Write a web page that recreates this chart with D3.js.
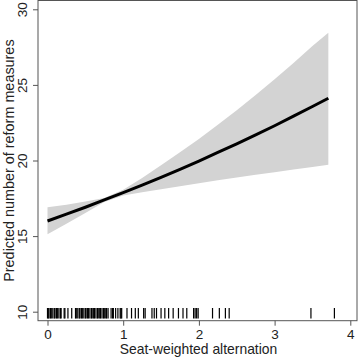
<!DOCTYPE html>
<html>
<head>
<meta charset="utf-8">
<script src="https://cdn.jsdelivr.net/npm/d3@7"></script>
<style>
  html, body { margin: 0; padding: 0; background: #fff; }
  svg { display: block; font-family: "Liberation Sans", Arial, sans-serif; }
</style>
</head>
<body>
<div id="chart"></div>
<script>
// predicted values with 95% band
const xs    = [0, 0.25, 0.5, 0.75, 1.0, 1.25, 1.5, 1.75, 2.0, 2.25, 2.5, 2.75, 3.0, 3.25, 3.5, 3.71];
const fit   = [16.00, 16.45, 16.91, 17.39, 17.87, 18.37, 18.89, 19.42, 19.96, 20.53, 21.10, 21.69, 22.30, 22.93, 23.57, 24.12];
const upper = [16.90, 17.08, 17.29, 17.52, 18.06, 18.84, 19.68, 20.54, 21.43, 22.37, 23.33, 24.33, 25.37, 26.45, 27.57, 28.45];
const lower = [15.12, 15.82, 16.53, 17.26, 17.68, 17.90, 18.10, 18.30, 18.49, 18.69, 18.87, 19.05, 19.23, 19.41, 19.57, 19.72];
// observed values of seat-weighted alternation (rug)
const rugValues = [0.00, 0.01, 0.02, 0.04, 0.05, 0.07, 0.09, 0.10, 0.12, 0.13, 0.15, 0.17, 0.18,
  0.22, 0.23, 0.27, 0.32, 0.37, 0.38, 0.40, 0.42, 0.43, 0.45, 0.46, 0.48, 0.50, 0.51, 0.53, 0.54,
  0.56, 0.58, 0.59, 0.61, 0.62, 0.64, 0.66, 0.67, 0.69, 0.70, 0.72, 0.74, 0.75, 0.77, 0.78, 0.80,
  0.84, 0.86, 0.87, 0.90, 0.93, 0.96, 0.97, 0.98, 1.05, 1.11, 1.16, 1.20, 1.27, 1.29, 1.38, 1.41,
  1.44, 1.50, 1.55, 1.60, 1.66, 1.73, 1.79, 1.84, 1.93, 1.95, 1.97, 1.99, 2.18, 2.27, 2.35, 2.40,
  3.48, 3.79];
const xTicks = [0, 1, 2, 3, 4];
const yTicks = [10, 15, 20, 25, 30];
const xTitle = "Seat-weighted alternation";
const yTitle = "Predicted number of reform measures";

const width = 360, height = 360;
const box = { left: 38, right: 357, top: 0.5, bottom: 320.7 };

const svg = d3.select("#chart").append("svg")
  .attr("width", width).attr("height", height);

const x = d3.scaleLinear().domain([0, 4]).range([47.5, 350.3]);
const y = d3.scaleLinear().domain([10, 30]).range([311.7, 9.3]);

const rows = xs.map((v, i) => ({ x: v, fit: fit[i], lo: lower[i], hi: upper[i] }));

svg.append("path")
  .datum(rows)
  .attr("fill", "#d3d3d3")
  .attr("d", d3.area().x(d => x(d.x)).y0(d => y(d.lo)).y1(d => y(d.hi)));

svg.append("path")
  .datum(rows)
  .attr("fill", "none")
  .attr("stroke", "#000")
  .attr("stroke-width", 3)
  .attr("d", d3.line().x(d => x(d.x)).y(d => y(d.fit)));

// rug
svg.append("g").selectAll("line").data(rugValues).join("line")
  .attr("x1", d => x(d)).attr("x2", d => x(d))
  .attr("y1", 308).attr("y2", 318.5)
  .attr("stroke", "#000").attr("stroke-width", 1.2);

// plot box
svg.append("rect")
  .attr("x", box.left).attr("y", box.top)
  .attr("width", box.right - box.left).attr("height", box.bottom - box.top)
  .attr("fill", "none").attr("stroke", "#555").attr("stroke-width", 1);

svg.append("g")
  .attr("transform", `translate(0,${box.bottom})`)
  .call(d3.axisBottom(x).tickValues(xTicks).tickSize(5).tickPadding(4).tickFormat(d3.format("d")))
  .call(g => g.select(".domain").remove())
  .call(g => g.selectAll("line").attr("stroke", "#555"))
  .call(g => g.selectAll("text").attr("font-size", 13.5).attr("fill", "#222")
    .attr("font-family", "Liberation Sans, Arial, sans-serif"));

svg.append("g")
  .attr("transform", `translate(${box.left},0)`)
  .call(d3.axisLeft(y).tickValues(yTicks).tickSize(5).tickFormat(d3.format("d")))
  .call(g => g.select(".domain").remove())
  .call(g => g.selectAll("line").attr("stroke", "#555"))
  .call(g => g.selectAll("text")
    .attr("font-size", 13.5).attr("fill", "#222")
    .attr("font-family", "Liberation Sans, Arial, sans-serif")
    .attr("x", null).attr("dy", null)
    .attr("text-anchor", "middle")
    .attr("transform", "translate(-11,0) rotate(-90)"));

svg.append("text")
  .attr("x", (box.left + box.right) / 2 + 1).attr("y", 354)
  .attr("text-anchor", "middle").attr("font-size", 13.9).attr("fill", "#222")
  .text(xTitle);

svg.append("text")
  .attr("transform", `translate(14,${(box.top + box.bottom) / 2}) rotate(-90)`)
  .attr("text-anchor", "middle").attr("font-size", 14.4).attr("fill", "#222")
  .text(yTitle);
</script>
</body>
</html>
